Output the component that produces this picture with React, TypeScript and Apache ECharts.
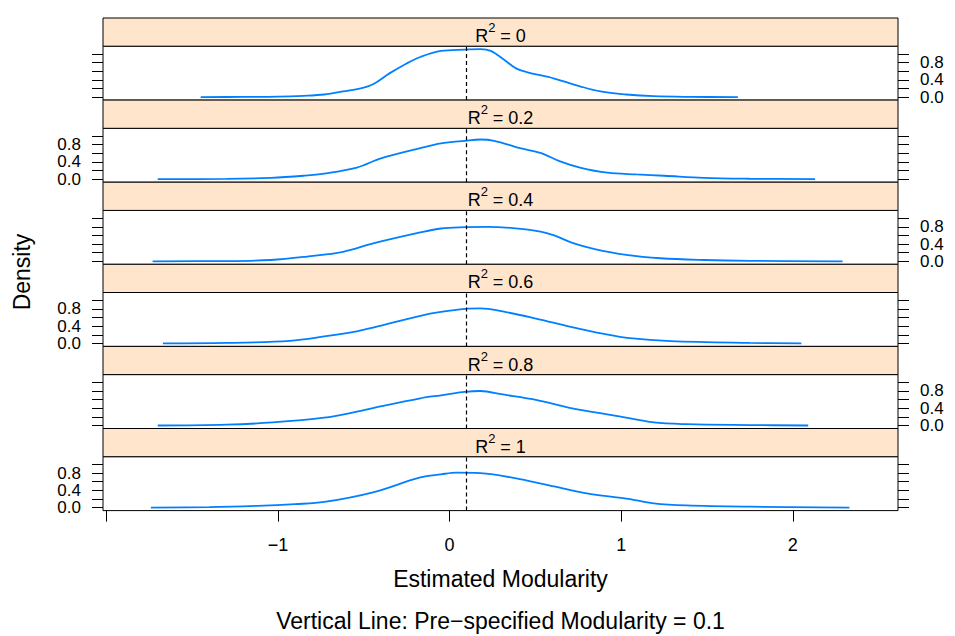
import React, { useEffect, useRef } from "react";
import * as echarts from "echarts";

// Panel conditioning values (R^2)
const panelLabels = ["0", "0.2", "0.4", "0.6", "0.8", "1"];

// Density curves, one pair of arrays per panel (top to bottom)
const x_r0 = [-1.45, -1.2, -1.0, -0.85, -0.73, -0.62, -0.5, -0.44, -0.35, -0.25, -0.17, -0.05, 0.09, 0.18, 0.24, 0.32, 0.39, 0.45, 0.61, 0.76, 0.88, 1.03, 1.19, 1.4, 1.68];
const y_r0 = [0.0, 0.003, 0.01, 0.03, 0.06, 0.13, 0.22, 0.31, 0.55, 0.78, 0.93, 1.07, 1.1, 1.11, 1.07, 0.86, 0.66, 0.58, 0.43, 0.25, 0.13, 0.06, 0.02, 0.005, 0.0];

const x_r02 = [-1.7, -1.3, -1.04, -0.85, -0.73, -0.54, -0.4, -0.17, -0.05, 0.09, 0.18, 0.26, 0.41, 0.53, 0.64, 0.76, 0.92, 1.09, 1.25, 1.48, 1.75, 2.13];
const y_r02 = [0.0, 0.005, 0.03, 0.08, 0.13, 0.27, 0.48, 0.72, 0.83, 0.89, 0.92, 0.89, 0.72, 0.61, 0.42, 0.27, 0.15, 0.11, 0.08, 0.03, 0.01, 0.0];

const x_r04 = [-1.73, -1.3, -1.04, -0.83, -0.62, -0.44, -0.17, -0.05, 0.09, 0.22, 0.37, 0.53, 0.61, 0.72, 0.84, 1.03, 1.23, 1.48, 1.75, 2.29];
const y_r04 = [0.0, 0.005, 0.03, 0.11, 0.22, 0.42, 0.67, 0.76, 0.79, 0.8, 0.77, 0.69, 0.6, 0.42, 0.29, 0.15, 0.07, 0.03, 0.01, 0.0];

const x_r06 = [-1.67, -1.3, -0.93, -0.73, -0.54, -0.44, -0.17, -0.05, 0.09, 0.18, 0.31, 0.51, 0.7, 0.9, 1.05, 1.29, 1.75, 2.05];
const y_r06 = [0.0, 0.01, 0.06, 0.16, 0.28, 0.37, 0.64, 0.73, 0.8, 0.81, 0.74, 0.57, 0.39, 0.22, 0.12, 0.05, 0.01, 0.0];

const x_r08 = [-1.7, -1.3, -1.03, -0.73, -0.54, -0.44, -0.17, -0.05, 0.09, 0.18, 0.31, 0.51, 0.7, 0.99, 1.19, 1.38, 1.75, 2.09];
const y_r08 = [0.0, 0.02, 0.07, 0.18, 0.32, 0.41, 0.63, 0.7, 0.78, 0.8, 0.72, 0.59, 0.41, 0.21, 0.07, 0.03, 0.01, 0.0];

const x_r1 = [-1.74, -1.4, -1.12, -0.9, -0.73, -0.44, -0.17, -0.05, 0.04, 0.18, 0.41, 0.61, 0.8, 1.03, 1.19, 1.38, 1.75, 2.33];
const y_r1 = [0.0, 0.01, 0.04, 0.08, 0.13, 0.36, 0.7, 0.77, 0.81, 0.8, 0.66, 0.49, 0.33, 0.21, 0.1, 0.05, 0.02, 0.0];

const panelX = [x_r0, x_r02, x_r04, x_r06, x_r08, x_r1];
const panelY = [y_r0, y_r02, y_r04, y_r06, y_r08, y_r1];

// Axis ticks
const xTicks = [-2, -1, 0, 1, 2];
const xTickLabels = [-1, 0, 1, 2];
const yTicks = [0, 0.2, 0.4, 0.6, 0.8, 1.0];
const yTickLabelsOuter = [0, 0.8];
const yTickLabelsMid = [0.4];
const refValue = 0.1;

const xTitle = "Estimated Modularity";
const yTitle = "Density";
const subTitle = "Vertical Line: Pre\u2212specified Modularity = 0.1";

const FONT = "'Liberation Sans', Arial, Helvetica, sans-serif";

export default function App() {
  const ref = useRef<HTMLDivElement>(null);

  useEffect(() => {
    if (!ref.current) return;
    const chart = echarts.init(ref.current, undefined, { renderer: "svg" });

    const L = 103;
    const W = 795;
    const top0 = 18;
    const pitch = 82.1;
    const stripH = 28.2;
    const plotH = pitch - stripH;
    const xMin = -2.019;
    const xMax = 2.613;
    const yMin = -0.07;
    const yMax = 1.18;
    const tickLen = 11;

    const grids: any[] = [];
    const xAxes: any[] = [];
    const yAxes: any[] = [];
    const series: any[] = [];
    const graphics: any[] = [];

    const fmtX = (v: number) => (v < 0 ? "\u2212" + Math.abs(v) : String(v));

    const yAxisBase = (i: number, pos: string) => ({
      type: "value",
      gridIndex: i,
      position: pos,
      min: yMin,
      max: yMax,
      axisLine: { show: false, onZero: false },
      splitLine: { show: false },
    });
    const yLabelStyle = {
      formatter: (v: number) => v.toFixed(1),
      fontSize: 17,
      lineHeight: 16,
      fontFamily: FONT,
      color: "#000",
      margin: 22,
      showMinLabel: true,
      showMaxLabel: true,
      hideOverlap: false,
    };

    panelLabels.forEach((lab, i) => {
      const stripTop = top0 + i * pitch;
      grids.push({
        left: L,
        top: stripTop + stripH,
        width: W,
        height: plotH,
        show: true,
        borderColor: "#000",
        borderWidth: 1,
        backgroundColor: "#fff",
        containLabel: false,
      });
      const showX = i === 0 || i === panelLabels.length - 1;
      xAxes.push({
        type: "value",
        gridIndex: i,
        min: xMin,
        max: xMax,
        position: i === 0 ? "top" : "bottom",
        axisLine: { show: false, onZero: false },
        splitLine: { show: false },
        axisTick: {
          show: showX,
          length: tickLen,
          customValues: xTicks,
          lineStyle: { color: "#000", width: 1 },
        },
        axisLabel: {
          show: i === panelLabels.length - 1,
          customValues: xTickLabels,
          formatter: fmtX,
          fontSize: 18,
          fontFamily: FONT,
          color: "#000",
          margin: 25,
          showMinLabel: true,
          showMaxLabel: true,
        },
      });
      const labelSide = i % 2 === 0 ? "right" : "left";
      ["left", "right"].forEach((pos) => {
        yAxes.push({
          ...yAxisBase(i, pos),
          axisTick: {
            show: true,
            length: tickLen,
            customValues: yTicks,
            lineStyle: { color: "#000", width: 1 },
          },
          axisLabel: {
            ...yLabelStyle,
            show: pos === labelSide,
            customValues: yTickLabelsOuter,
          },
        });
      });
      // extra axis carrying only the middle label (avoids overlap hiding)
      yAxes.push({
        ...yAxisBase(i, labelSide),
        axisTick: { show: false },
        axisLabel: {
          ...yLabelStyle,
          show: true,
          customValues: yTickLabelsMid,
        },
      });
      series.push({
        type: "line",
        xAxisIndex: i,
        yAxisIndex: i * 3,
        data: panelX[i].map((x, k) => [x, panelY[i][k]]),
        showSymbol: false,
        smooth: 0.35,
        lineStyle: { color: "#0080ff", width: 1.8 },
        markLine: {
          silent: true,
          symbol: ["none", "none"],
          label: { show: false },
          lineStyle: { color: "#000", type: [4, 3], width: 1.2 },
          data: [{ xAxis: refValue }],
        },
        z: 3,
      });
      graphics.push({
        type: "rect",
        shape: { x: L, y: stripTop, width: W, height: stripH },
        style: { fill: "#ffe5cc", stroke: "#000", lineWidth: 1 },
        z: 1,
      });
      graphics.push({
        type: "text",
        x: L + W / 2,
        y: stripTop + stripH / 2 + 1,
        style: {
          text: `{r|R}{s|2}{r| = ${lab}}`,
          align: "center",
          verticalAlign: "middle",
          rich: {
            r: { fontSize: 18, fontFamily: FONT, fill: "#000", lineHeight: 24, verticalAlign: "bottom" },
            s: { fontSize: 13, fontFamily: FONT, fill: "#000", lineHeight: 14, verticalAlign: "top" },
          },
        },
        z: 2,
      });
    });

    graphics.push({
      type: "text",
      x: L + W / 2,
      y: 579,
      style: { text: xTitle, fontSize: 23, fontFamily: FONT, fill: "#000", align: "center", verticalAlign: "middle" },
    });
    graphics.push({
      type: "text",
      x: L + W / 2,
      y: 621,
      style: { text: subTitle, fontSize: 23, fontFamily: FONT, fill: "#000", align: "center", verticalAlign: "middle" },
    });
    graphics.push({
      type: "text",
      x: 22,
      y: 272,
      rotation: Math.PI / 2,
      style: { text: yTitle, fontSize: 23, fontFamily: FONT, fill: "#000", align: "center", verticalAlign: "middle" },
    });

    chart.setOption({
      animation: false,
      backgroundColor: "#fff",
      grid: grids,
      xAxis: xAxes,
      yAxis: yAxes,
      series,
      graphic: graphics,
    });

    return () => chart.dispose();
  }, []);

  return <div ref={ref} style={{ width: 955, height: 636, position: "absolute", left: 0, top: 0 }} />;
}
